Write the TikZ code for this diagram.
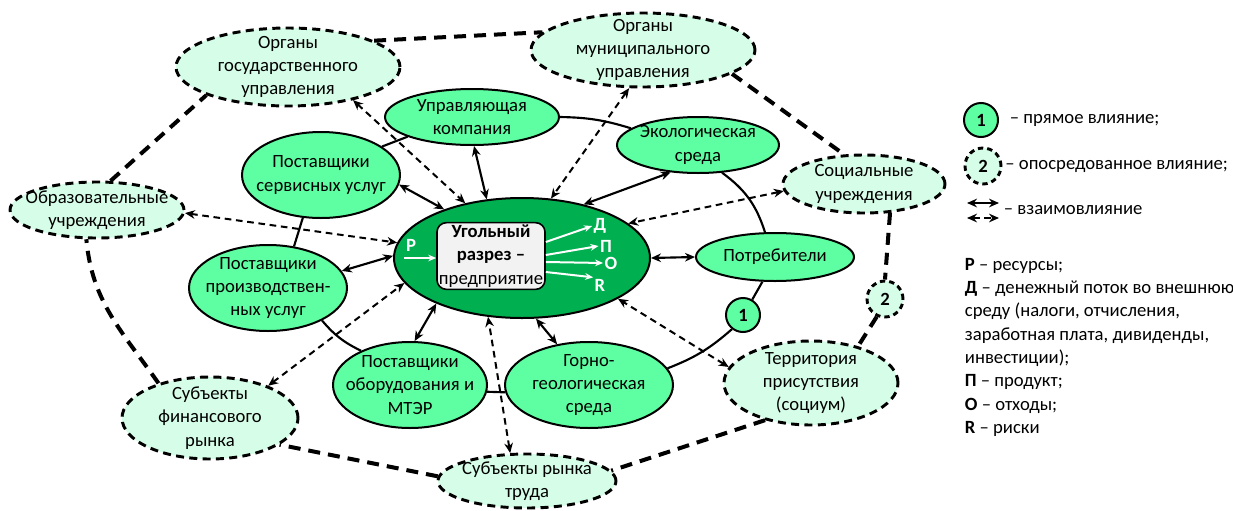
\documentclass[tikz,border=0pt]{standalone}
\usepackage{fontspec}
\setmainfont{Carlito}
\usetikzlibrary{shapes.geometric,arrows.meta,positioning,calc}
\definecolor{coregreen}{RGB}{0,176,80}
\definecolor{nodegreen}{RGB}{94,255,163}
\definecolor{palegreen}{RGB}{214,253,231}
\definecolor{boxgray}{RGB}{242,242,242}
\newcommand{\nodefont}{\fontsize{14}{17.5}\selectfont}
\tikzset{
    esize/.style 2 args={minimum width=#1*0.75pt, minimum height=#2*0.75pt},
    solidell/.style={ellipse, draw, line width=1.5pt, fill=nodegreen, inner xsep=-16pt, inner ysep=-9pt, align=center, font=\nodefont},
    dashell/.style={ellipse, draw, line width=2.2pt, dash pattern=on 6pt off 4pt, fill=palegreen, inner xsep=-16pt, inner ysep=-9pt, align=center, font=\nodefont},
    numsolid/.style={circle, draw, line width=1.5pt, fill=nodegreen, minimum size=25.5pt, inner sep=0pt, font=\nodefont\bfseries},
    numdashed/.style={circle, draw, line width=2.2pt, dash pattern=on 4pt off 3pt, fill=palegreen, minimum size=27pt, inner sep=0pt, font=\nodefont\bfseries},
    flowletter/.style={text=white, font=\nodefont\bfseries, inner sep=1pt},
    flowarrow/.style={white, line width=1.5pt, -{Stealth[length=6pt,width=5pt]}},
    innerlink/.style={line width=1.6pt},
    outerlink/.style={line width=3pt, dash pattern=on 9pt off 6pt},
    mutual/.style={line width=1.6pt, <->},
    indirect/.style={line width=1.5pt, dash pattern=on 5pt off 3.5pt, <->},
    legtext/.style={font=\nodefont, inner sep=2pt}
}
\begin{document}
\begin{tikzpicture}[x=0.75pt, y=-0.75pt, >={Stealth[length=7.5pt,width=6.5pt]}]
    \useasboundingbox (0,0) rectangle (1233,511);

    % enterprise in the middle
    \node[ellipse, draw, line width=1.5pt, fill=coregreen, esize={256}{120}, inner sep=0pt] (core) at (522,258) {};
    \node[draw, line width=1.2pt, fill=boxgray, rounded corners=7pt, minimum width=81pt, minimum height=50pt, inner sep=1pt, align=center, font=\nodefont] (firm) at (491,256) {\textbf{Угольный}\\\textbf{разрез –}\\предприятие};
    \node[flowletter] (inR) at (411,245) {Р};
    \coordinate (inStart) at (404,258);
    \draw[flowarrow] (inStart) -- (inStart -| firm.west);
    \node[flowletter] (outD) at (600,226) {Д};
    \node[flowletter] (outP) at (606,246) {П};
    \node[flowletter] (outO) at (611,263) {О};
    \node[flowletter] (outRisk) at (600,285) {R};
    \draw[flowarrow] ($(firm.east)+(0,-14)$) -- (outD.west);
    \draw[flowarrow] ($(firm.east)+(0,-1)$) -- (outP.west);
    \draw[flowarrow] ($(firm.east)+(0,6)$) -- (outO.west);
    \draw[flowarrow] ($(firm.east)+(0,16)$) -- (outRisk.north west);

    % direct environment
    \node[solidell, esize={174}{56}] (uprav) at (472,117) {Управляющая\\компания};
    \node[solidell, esize={158}{86}] (serv) at (321,175) {Поставщики\\сервисных услуг};
    \node[solidell, esize={162}{56}] (ekol) at (698,145) {Экологическая\\среда};
    \node[solidell, esize={158}{48}] (potr) at (775,257) {Потребители};
    \node[solidell, esize={158}{86}] (proizv) at (268,288) {Поставщики\\производствен-\\ных услуг};
    \node[solidell, esize={154}{86}] (obor) at (410,385) {Поставщики\\оборудования и\\МТЭР};
    \node[solidell, esize={168}{86}] (gorno) at (589,385) {Горно-\\геологическая\\среда};
    \node[numsolid] (c1) at (743,315) {1};

    % indirect environment
    \node[dashell, esize={224}{78}] (gos) at (288,67) {Органы\\государственного\\управления};
    \node[dashell, esize={224}{74}] (munic) at (643,50) {Органы\\муниципального\\управления};
    \node[dashell, esize={162}{58}] (soc) at (864,184) {Социальные\\учреждения};
    \node[dashell, esize={174}{56}] (obraz) at (97,210) {Образовательные\\учреждения};
    \node[dashell, esize={176}{82}] (fin) at (210,418) {Субъекты\\финансового\\рынка};
    \node[dashell, esize={178}{54}] (trud) at (527,481) {Субъекты рынка\\труда};
    \node[dashell, esize={174}{84}] (terr) at (811,383) {Территория\\присутствия\\(социум)};
    \node[numdashed] (c2) at (885,299) {2};

    % outer ring
    \draw[outerlink] (gos.17) -- (munic.170);
    \draw[outerlink] (munic.345) -- (soc.124);
    \draw[outerlink] (soc.312) -- (c2.90);
    \draw[outerlink] (c2.245) -- (terr.38);
    \draw[outerlink] (terr.219) -- (trud.7);
    \draw[outerlink] (trud.177) -- (fin.339);
    \draw[outerlink] (fin.146) to[out=125, in=-85] (obraz.250);
    \draw[outerlink] (obraz.65) -- (gos.199);

    % inner ring
    \draw[innerlink] (serv.25) -- (uprav.197);
    \draw[innerlink] (uprav.east) to[bend left=8] (ekol.166);
    \draw[innerlink] (ekol.311) to[bend left=18] (potr.112);
    \draw[innerlink] (potr.243) -- (c1.59);
    \draw[innerlink] (c1.232) to[bend left=10] (gorno.12);
    \draw[innerlink] (gorno.185) -- (obor.355);
    \draw[innerlink] (obor.145) to[bend left=12] (proizv.329);
    \draw[innerlink] (proizv.58) -- (serv.247);

    % mutual influence
    \draw[mutual] (serv.353) -- (core.148);
    \draw[mutual] (uprav.274) -- (core.121);
    \draw[mutual] (ekol.225) -- (core.41);
    \draw[mutual] (potr.west) -- (core.east);
    \draw[mutual] (proizv.13) -- (core.179);
    \draw[mutual] (obor.84) -- (core.208);
    \draw[mutual] (gorno.128) -- (core.283);
    \draw[indirect] (gos.333) -- (core.136);
    \draw[indirect] (munic.250) -- (core.64);
    \draw[indirect] (soc.185) -- (core.18);
    \draw[indirect] (obraz.358) -- (core.173);
    \draw[indirect] (fin.29) -- (core.192);
    \draw[indirect] (trud.121) -- (core.240);
    \draw[indirect] (terr.169) -- (core.337);

    % legend
    \node[numsolid] (lg1) at (981,120) {1};
    \node[legtext, right=6pt of lg1] (lg1txt) {– прямое влияние;};
    \node[numdashed] (lg2) at (983,166) {2};
    \node[legtext, right=0pt of lg2] (lg2txt) {– опосредованное влияние;};
    \coordinate (lgA) at (967,203);
    \coordinate (lgB) at (999,203);
    \coordinate (lgC) at (967,218);
    \coordinate (lgD) at (999,218);
    \draw[mutual] (lgA) -- (lgB);
    \draw[indirect] (lgC) -- (lgD);
    \node[legtext, anchor=west] (lg3txt) at (1001,210) {– взаимовлияние};
    \node[legtext, anchor=north west, align=left] (legnote) at (962,255) {\textbf{Р} – ресурсы;\\\textbf{Д} – денежный поток во внешнюю\\среду (налоги, отчисления,\\заработная плата, дивиденды,\\инвестиции);\\\textbf{П} – продукт;\\\textbf{О} – отходы;\\\textbf{R} – риски};
\end{tikzpicture}
\end{document}
